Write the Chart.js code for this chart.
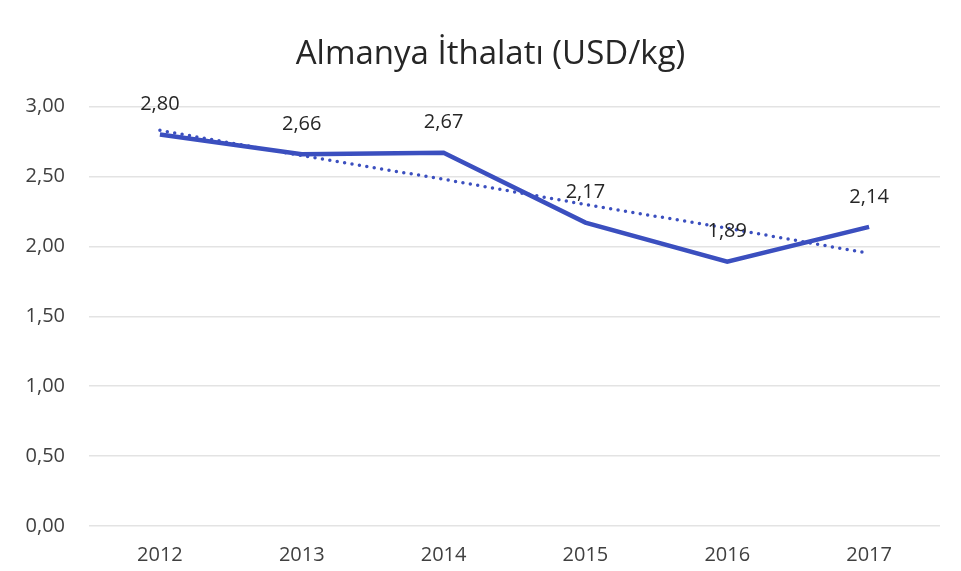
<!DOCTYPE html>
<html>
<head>
<meta charset="utf-8">
<script src="https://cdn.jsdelivr.net/npm/chart.js@4"></script>
<style>
  html, body { margin: 0; padding: 0; background: #fff; }
  #wrap { width: 961px; height: 571px; }
</style>
</head>
<body>
<div id="wrap"><canvas id="import-chart" width="961" height="571"></canvas></div>
<script>
"use strict";

Chart.defaults.font.family = "'Open Sans', 'Liberation Sans', sans-serif";
Chart.defaults.color = "#404040";

var years = ["2012", "2013", "2014", "2015", "2016", "2017"];
var prices = [2.80, 2.66, 2.67, 2.17, 1.89, 2.14];
// trend line
var trend = [2.83, 2.65, 2.48, 2.30, 2.13, 1.95];
var yTicks = [0, 0.5, 1, 1.5, 2, 2.5, 3];

function fmt(v) {
  return v.toFixed(2).replace(".", ",");
}

// labels over the points of the first dataset
const valueLabels = {
  id: "valueLabels",
  afterDatasetsDraw(chart) {
    var ctx = chart.ctx;
    var meta = chart.getDatasetMeta(0);
    ctx.save();
    ctx.font = "20px 'Open Sans', sans-serif";
    ctx.fillStyle = "#262626";
    ctx.textAlign = "center";
    ctx.textBaseline = "middle";
    meta.data.forEach(function (pt, i) {
      ctx.fillText(fmt(prices[i]), pt.x, pt.y - 30);
    });
    ctx.restore();
  },
};

var ctx1 = document.getElementById("import-chart").getContext("2d");

var importChart = new Chart(ctx1, {
  type: "line",
  data: {
    labels: years,
    datasets: [
      {
        label: "USD/kg",
        data: prices,
        borderColor: "#3b4fbf",
        borderWidth: 4.5,
        pointRadius: 0,
        tension: 0,
      },
      {
        label: "Trend",
        data: trend,
        borderColor: "#3b4fbf",
        borderWidth: 3.5,
        borderDash: [0, 7.5],
        borderCapStyle: "round",
        pointRadius: 0,
        tension: 0,
      },
    ],
  },
  options: {
    responsive: false,
    animation: false,
    layout: {
      padding: { left: 20, right: 0, top: 12, bottom: -13 },
    },
    plugins: {
      legend: { display: false },
      tooltip: { enabled: false },
      title: {
        display: true,
        text: "Almanya İthalatı (USD/kg)",
        color: "#262626",
        font: { size: 33, weight: "normal" },
        padding: { top: 23, bottom: 32 },
      },
    },
    scales: {
      x: {
        offset: true,
        grid: { display: false, drawTicks: false },
        border: { display: false },
        ticks: { color: "#404040", font: { size: 20 }, padding: 17 },
      },
      y: {
        min: 0,
        max: 3,
        afterBuildTicks: function (axis) {
          axis.ticks = yTicks.map(function (v) { return { value: v }; });
        },
        afterFit: function (axis) { axis.width = 69; },
        grid: { color: "#e3e3e3", lineWidth: 1.5, drawTicks: false },
        border: { display: false },
        ticks: {
          color: "#404040",
          font: { size: 20 },
          padding: 24,
          callback: function (value) { return fmt(value); },
        },
      },
      // empty space on the right side of the plot
      yRight: {
        position: "right",
        min: 0,
        max: 3,
        grid: { display: false, drawTicks: false },
        border: { display: false },
        ticks: { display: false },
        afterFit: function (axis) { axis.width = 21; },
      },
    },
  },
  plugins: [valueLabels],
});
</script>
</body>
</html>
